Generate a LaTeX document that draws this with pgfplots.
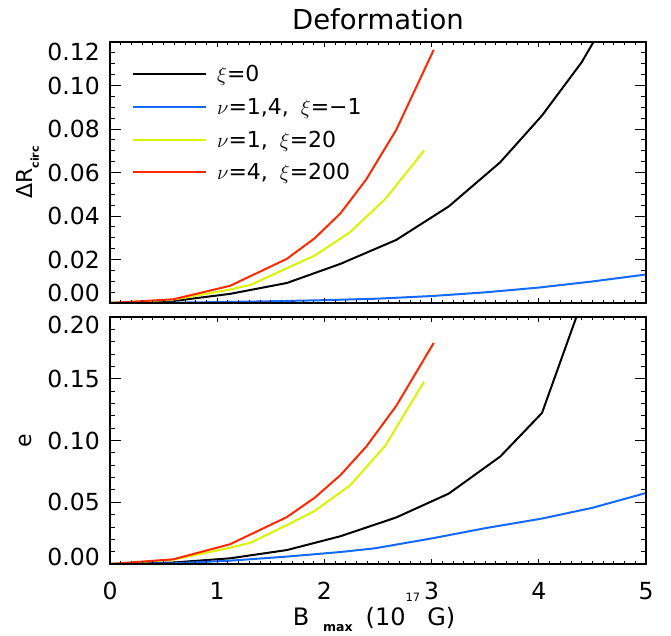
\documentclass[border=0pt]{standalone}
\usepackage{fontspec}
\setmainfont{DejaVu Sans}
\usepackage{pgfplots}
\pgfplotsset{compat=1.18}
\definecolor{cblue}{RGB}{20,105,255}
\definecolor{cyel}{RGB}{215,245,0}
\definecolor{cred}{RGB}{255,40,0}
\newcommand\fs[1]{\fontsize{#1}{#1}\selectfont}
\begin{document}
\begin{tikzpicture}
\pgfplotsset{
  common/.style={
    scale only axis, width=536pt, xmin=0, xmax=5,
    xtick={0,1,2,3,4,5},
    tick align=inside,
    axis line style={line width=1.1pt},
    tick style={black, line width=0.9pt},
    major tick length=10.7pt, minor tick length=5.4pt,
    xtick style={draw=none},
    tick label style={font=\fs{23.5}},
    yticklabel style={inner sep=0pt, xshift=-10pt},
    xticklabel style={inner sep=0pt, yshift=-18pt},
    /pgf/number format/assume math mode=true,
    extra y tick style={major tick length=0pt, tick style={draw=none}},
    every axis plot/.append style={line width=2pt, line join=round},
    ylabel style={font=\fs{22}, anchor=center},
  },
  xonly/.style={
    scale only axis, width=536pt, xmin=0, xmax=5, ymin=0, ymax=1,
    xtick={0,1,2,3,4,5}, minor x tick num=9, xticklabels={}, ytick=\empty,
    tick align=inside,
    axis line style={line width=1.1pt},
    tick style={black, line width=0.9pt},
    major tick length=5.2pt, minor tick length=2.6pt,
  }
}
% ---------------- top panel ----------------
\begin{axis}[common, at={(0pt,261pt)}, anchor=south west, height=261pt,
  ymin=0, ymax=0.12,
  ytick={0,0.02,0.04,0.06,0.08,0.10,0.12},
  yticklabels={,0.02,0.04,0.06,0.08,0.10,},
  extra y ticks={0.0046,0.1154}, extra y tick labels={0.00,0.12},
  minor y tick num=3, xticklabels={},
  title={Deformation},
  title style={font=\fs{27.5}, at={(0.5,1)}, anchor=base, yshift=6pt, inner sep=0pt},
  ylabel={ΔR\raisebox{-6pt}{\fs{11}\bfseries circ}},
  ylabel style={at={(axis description cs:-0.153,0.5)}},
  legend style={draw=none, fill=none, at={(0.041,0.906)}, anchor=north west,
    inner sep=0pt, row sep=17.7pt, /tikz/column sep=10pt, font=\fs{22},
    nodes={inner sep=0pt, text height=15pt, text depth=0pt}},
  legend cell align=left,
  legend image code/.code={\draw[#1, line width=2pt] (0pt,0pt) -- (73pt,0pt);},
]
\addplot[black] coordinates {(0,0) (0.59,0.0009) (1.12,0.0042) (1.65,0.0092) (2.15,0.0180) (2.67,0.0290) (3.16,0.0444) (3.64,0.0647) (4.03,0.0862) (4.40,0.1107) (4.60,0.1276)};
\addlegendentry{$\xi$=0}
\addplot[cblue] coordinates {(0,0) (0.5,0.0001) (1,0.0004) (1.5,0.0008) (2,0.0013) (2.5,0.0020) (3,0.0032) (3.5,0.0049) (4,0.0071) (4.5,0.0099) (5,0.0131)};
\addlegendentry{$\nu$=1,4,\hspace{12pt}$\xi$=−1}
\addplot[cyel] coordinates {(0,0) (0.59,0.0015) (1.12,0.0062) (1.31,0.0083) (1.65,0.0160) (1.91,0.0218) (2.24,0.0326) (2.57,0.0479) (2.93,0.0701)};
\addlegendentry{$\nu$=1,\hspace{12pt}$\xi$=20}
\addplot[cred] coordinates {(0,0) (0.59,0.0017) (1.12,0.0079) (1.65,0.0203) (1.91,0.0298) (2.15,0.0412) (2.39,0.0568) (2.67,0.0796) (3.02,0.1164)};
\addlegendentry{$\nu$=4,\hspace{12pt}$\xi$=200}
\end{axis}
\begin{axis}[xonly, at={(0pt,261pt)}, anchor=south west, height=261pt]
\end{axis}
% ---------------- bottom panel ----------------
\begin{axis}[common, at={(0pt,0pt)}, anchor=south west, height=247pt,
  ymin=0, ymax=0.20,
  ytick={0,0.05,0.10,0.15,0.20},
  yticklabels={,0.05,0.10,0.15,},
  extra y ticks={0.0057,0.1935}, extra y tick labels={0.00,0.20},
  minor y tick num=4,
  ylabel={e},
  ylabel style={at={(axis description cs:-0.157,0.5)}},
  xlabel={B\hspace{14pt}\raisebox{-6pt}{\fs{12.5}\bfseries max}\hspace{13pt}(10\raisebox{24pt}{\fs{11.5}17}\hspace{7pt}G)},
  xlabel style={font=\fs{24}, at={(axis description cs:0.5,0)}, anchor=base, yshift=-61pt, xshift=-4pt, inner sep=0pt},
]
\addplot[black] coordinates {(0,0) (0.59,0.0012) (1.12,0.0046) (1.65,0.0113) (2.15,0.0225) (2.67,0.0377) (3.16,0.0570) (3.64,0.0870) (4.03,0.1223) (4.40,0.2120)};
\addplot[cblue] coordinates {(0,0) (0.59,0.0006) (1.12,0.0027) (1.65,0.0060) (2.15,0.0097) (2.47,0.0127) (3.0,0.0207) (3.5,0.0290) (4.03,0.0368) (4.5,0.0455) (5,0.0575)};
\addplot[cyel] coordinates {(0,0) (0.59,0.0035) (1.12,0.0132) (1.31,0.0172) (1.65,0.0315) (1.91,0.0430) (2.24,0.0637) (2.57,0.0960) (2.93,0.1476)};
\addplot[cred] coordinates {(0,0) (0.59,0.0038) (1.12,0.0160) (1.65,0.0380) (1.91,0.0537) (2.15,0.0720) (2.39,0.0950) (2.67,0.1280) (3.02,0.1790)};
\end{axis}
\begin{axis}[xonly, at={(0pt,0pt)}, anchor=south west, height=247pt]
\end{axis}
\path (-110pt,-71pt) rectangle (561pt,564pt);
\end{tikzpicture}
\end{document}
